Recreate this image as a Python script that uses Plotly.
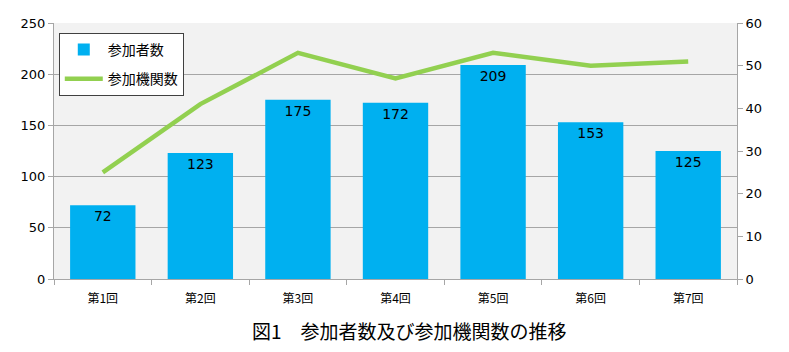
import plotly.graph_objects as go

categories = ["第1回", "第2回", "第3回", "第4回", "第5回", "第6回", "第7回"]
participants = [72, 123, 175, 172, 209, 153, 125]
institutions = [25, 41, 53, 47, 53, 50, 51]

font_jp = "Noto Sans CJK JP"
font_num = "DejaVu Sans"

fig = go.Figure()
fig.add_trace(go.Bar(
    x=categories, y=participants, name="参加者数", legendgroup="a",
    marker=dict(color="#00b0f0", line=dict(width=0)),
    text=[str(v) for v in participants], textposition="inside",
    insidetextanchor="end",
    textfont=dict(family=font_num, size=14, color="#000000"),
    width=0.67,
))
fig.add_trace(go.Scatter(
    x=categories, y=institutions, name="参加機関数", yaxis="y2", legendgroup="b",
    mode="lines", line=dict(color="#92d050", width=4.5),
))

fig.update_layout(
    width=789, height=352,
    margin=dict(l=54, r=52, t=23, b=73),
    plot_bgcolor="#f2f2f2", paper_bgcolor="#ffffff",
    showlegend=True,
    legend=dict(
        x=0.007, y=0.961, xanchor="left", yanchor="top",
        bgcolor="#ffffff", bordercolor="#404040", borderwidth=1,
        font=dict(family=font_jp, size=14, color="#000000"),
        itemwidth=38, traceorder="grouped", tracegroupgap=8,
    ),
    xaxis=dict(
        type="category", tickson="boundaries", ticks="outside", ticklen=5,
        tickcolor="#a6a6a6", showline=True, linecolor="#a6a6a6",
        tickfont=dict(family=font_jp, size=12, color="#000000"),
        ticklabelstandoff=9,
        showgrid=False,
    ),
    yaxis=dict(
        range=[0, 250], dtick=50, ticks="outside", ticklen=5,
        tickcolor="#a6a6a6", showline=True, linecolor="#a6a6a6",
        gridcolor="#a6a6a6", gridwidth=1,
        tickfont=dict(family=font_num, size=13, color="#000000"),
        zeroline=False,
    ),
    yaxis2=dict(
        range=[0, 60], dtick=10, overlaying="y", side="right",
        ticks="outside", ticklen=5, tickcolor="#a6a6a6",
        showline=True, linecolor="#a6a6a6", showgrid=False,
        tickfont=dict(family=font_num, size=13, color="#000000"),
        zeroline=False,
    ),
    annotations=[dict(
        text="図1　参加者数及び参加機関数の推移", xref="paper", yref="paper",
        x=0.52, y=-0.2, xanchor="center", yanchor="middle", showarrow=False,
        font=dict(family=font_jp, size=19, color="#000000"),
    )],
)

fig.write_html("out.html")
